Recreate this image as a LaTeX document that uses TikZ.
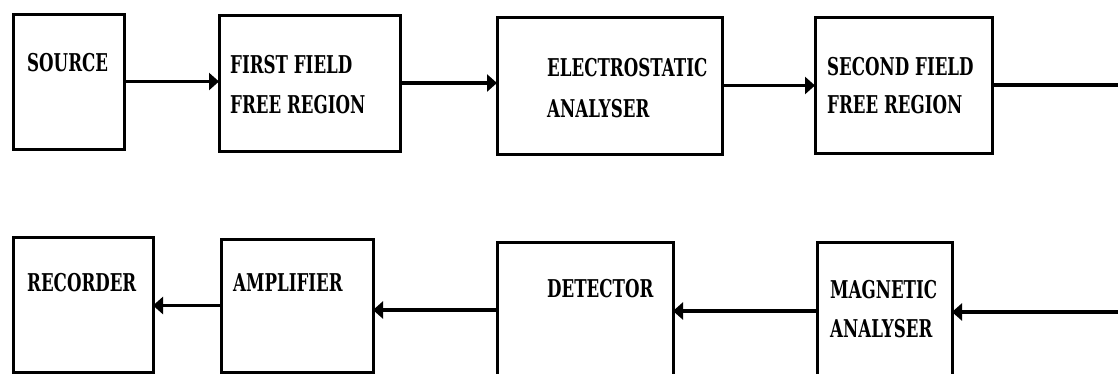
\documentclass[tikz,border=0pt]{standalone}
\usepackage{fontspec}
\newfontfamily\labfont{DejaVu Serif}[FakeStretch=0.68]
\usetikzlibrary{arrows.meta}
\tikzset{
  box/.style={draw, line width=3pt, inner sep=0pt, outer sep=0pt},
  lab/.style={anchor=base west, inner sep=0pt, font=\labfont\bfseries\fontsize{24.5}{28}\selectfont},
  conn/.style={line width=3.2pt},
  arr/.style={conn, -{Triangle[length=10pt,width=17pt]}}
}
\begin{document}
\begin{tikzpicture}[x=1pt,y=-1pt]
\useasboundingbox (0,0) rectangle (1118,373);
\clip (0,0) rectangle (1118,373);
\fill[white] (0,0) rectangle (1118,373);
% top row
\node[box, minimum width=111pt, minimum height=135pt] (source) at (68.5,81.5) {};
\node[box, minimum width=181pt, minimum height=136pt] (first) at (309.5,83) {};
\node[box, minimum width=225pt, minimum height=137pt] (electro) at (609.5,85.5) {};
\node[box, minimum width=177pt, minimum height=136pt] (second) at (903.5,85) {};
% bottom row
\node[box, minimum width=140pt, minimum height=135pt] (recorder) at (83,304.5) {};
\node[box, minimum width=152pt, minimum height=133pt] (amplifier) at (297,305.5) {};
\node[box, minimum width=176pt, minimum height=136pt] (detector) at (585,310) {};
\node[box, minimum width=135pt, minimum height=138pt] (magnetic) at (884.5,311) {};
% labels
\node[lab] (tsource) at (27,71) {SOURCE};
\node[lab] (tfirsta) at (230,73) {FIRST FIELD};
\node[lab] (tfirstb) at (230,113) {FREE REGION};
\node[lab] (telectroa) at (547,76) {ELECTROSTATIC};
\node[lab] (telectrob) at (547,117) {ANALYSER};
\node[lab] (tseconda) at (827,75) {SECOND FIELD};
\node[lab] (tsecondb) at (827,113) {FREE REGION};
\node[lab] (trecorder) at (27,291) {RECORDER};
\node[lab] (tamplifier) at (233,291) {AMPLIFIER};
\node[lab] (tdetector) at (547,297) {DETECTOR};
\node[lab] (tmagna) at (830,298) {MAGNETIC};
\node[lab] (tmagnb) at (830,337) {ANALYSER};
% free ends at right edge
\coordinate (outtop) at (1125,85);
\coordinate (inbot) at (1125,312);
% connectors
\draw[arr] (source.east) -- (source.east -| first.west);
\draw[arr] (first.east) -- (first.east -| electro.west);
\draw[arr] (electro.east) -- (electro.east -| second.west);
\draw[conn] (second.east) -- (second.east -| outtop);
\draw[arr] (inbot) -- (inbot -| magnetic.east);
\draw[arr] (magnetic.west) -- (magnetic.west -| detector.east);
\draw[arr] (detector.west) -- (detector.west -| amplifier.east);
\draw[arr] (amplifier.west) -- (amplifier.west -| recorder.east);
\end{tikzpicture}
\end{document}
